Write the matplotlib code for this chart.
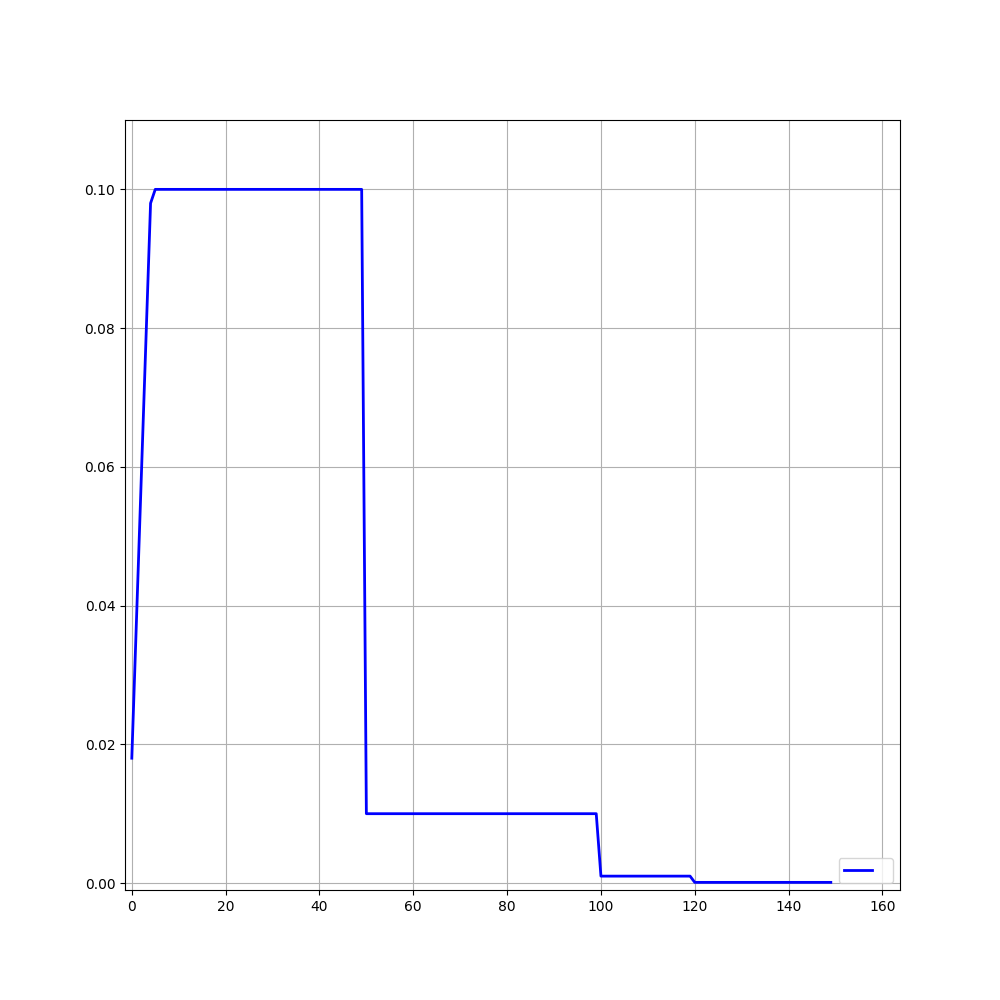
import numpy as np
import matplotlib
matplotlib.use("Agg")
import matplotlib.pyplot as plt

# learning rate per epoch
warmup = [0.018, 0.038, 0.058, 0.078, 0.098]
stage_lrs = [0.1, 0.01, 0.001, 0.0001]
stage_epochs = [45, 50, 20, 30]

lr = list(warmup)
for v, n in zip(stage_lrs, stage_epochs):
    lr += [v] * n
epochs = np.arange(len(lr))

fig, ax = plt.subplots(figsize=(10, 10), dpi=100)

line, = ax.plot(epochs, lr, color="blue", linewidth=2)

ax.set_xlim(-1.45, 163.75)
ax.set_ylim(-0.001, 0.11)
ax.set_yticks([0.0, 0.02, 0.04, 0.06, 0.08, 0.10])
ax.grid(True)

ax.legend([line], [" "], loc="lower right")

plt.savefig("out.png")
plt.close()
